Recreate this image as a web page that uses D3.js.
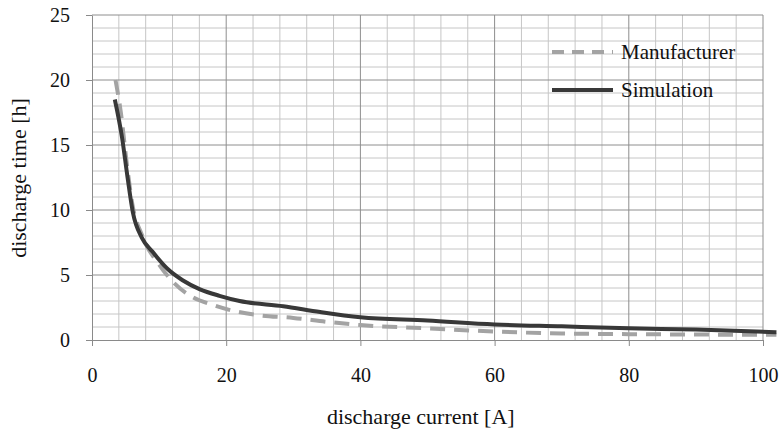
<!DOCTYPE html>
<html>
<head>
<meta charset="utf-8">
<script src="https://cdn.jsdelivr.net/npm/d3@7"></script>
<style>
  html, body { margin: 0; padding: 0; background: #fff; }
  svg { display: block; }
  svg text { font-family: "Liberation Serif", "DejaVu Serif", "Times New Roman", serif; }
</style>
</head>
<body>
<div id="chart"></div>
<script>
/* Werte */
var seriesNames = ["Manufacturer", "Simulation"];
var manufacturerCurrent = [3.5, 4.3, 5.2, 6, 7.5, 10, 12, 15, 18, 21, 25, 30, 35, 40, 50, 60, 70, 80, 90, 102];
var manufacturerTime    = [20, 17.5, 13.5, 10.5, 8, 5.8, 4.5, 3.3, 2.7, 2.25, 1.9, 1.7, 1.4, 1.15, 0.9, 0.65, 0.5, 0.45, 0.42, 0.4];
var simulationCurrent   = [3.4, 4.5, 5.3, 6.1, 7.4, 9, 11.2, 13.5, 16.1, 19, 22, 28.5, 34, 40, 50, 60, 70, 80, 90, 102];
var simulationTime      = [18.5, 15.5, 12.5, 9.8, 7.9, 6.8, 5.5, 4.6, 3.9, 3.4, 3.0, 2.6, 2.15, 1.75, 1.5, 1.2, 1.05, 0.9, 0.8, 0.6];
var xTicks = [0, 20, 40, 60, 80, 100];
var yTicks = [0, 5, 10, 15, 20, 25];

var W = 779, H = 429;
var margin = {top: 15, right: 16, bottom: 89, left: 92};
var width = W - margin.left - margin.right,
    height = H - margin.top - margin.bottom;

var svg = d3.select("#chart").append("svg").attr("width", W).attr("height", H);
var g = svg.append("g").attr("transform", "translate(" + margin.left + "," + margin.top + ")");

var x = d3.scaleLinear().domain([0, 100]).range([0, width]);
var y = d3.scaleLinear().domain([0, 25]).range([height, 0]);

/* Gitter: fein und grob */
g.append("g").selectAll("line").data(d3.range(4, 100, 4).filter(function(v) { return v % 20 != 0; }))
  .enter().append("line")
  .attr("x1", function(d) { return x(d); }).attr("x2", function(d) { return x(d); })
  .attr("y1", 0).attr("y2", height).attr("stroke", "#c6c6c6").attr("stroke-width", 1);
g.append("g").selectAll("line").data(d3.range(1, 25).filter(function(v) { return v % 5 != 0; }))
  .enter().append("line")
  .attr("y1", function(d) { return y(d); }).attr("y2", function(d) { return y(d); })
  .attr("x1", 0).attr("x2", width).attr("stroke", "#c6c6c6").attr("stroke-width", 1);
g.append("g").selectAll("line").data(xTicks.slice(1))
  .enter().append("line")
  .attr("x1", function(d) { return x(d); }).attr("x2", function(d) { return x(d); })
  .attr("y1", 0).attr("y2", height).attr("stroke", "#8e8e8e").attr("stroke-width", 1);
g.append("g").selectAll("line").data(yTicks.slice(1))
  .enter().append("line")
  .attr("y1", function(d) { return y(d); }).attr("y2", function(d) { return y(d); })
  .attr("x1", 0).attr("x2", width).attr("stroke", "#8e8e8e").attr("stroke-width", 1);

/* Achsen */
var xAxis = g.append("g").attr("transform", "translate(0," + height + ")")
  .call(d3.axisBottom(x).tickValues(xTicks).tickSize(6).tickPadding(22).tickSizeOuter(0));
var yAxis = g.append("g")
  .call(d3.axisLeft(y).tickValues(yTicks).tickSize(6).tickPadding(16).tickSizeOuter(0));
[xAxis, yAxis].forEach(function(a) {
  a.attr("font-family", null);
  a.select(".domain").attr("stroke", "#8a8a8a");
  a.selectAll(".tick line").attr("stroke", "#8a8a8a");
  a.selectAll("text").attr("font-size", "20px").attr("fill", "#111");
});

/* Kurven */
var line = d3.line().x(function(d) { return x(d[0]); }).y(function(d) { return y(d[1]); }).curve(d3.curveMonotoneX);
var manuData = d3.zip(manufacturerCurrent, manufacturerTime);
var simData = d3.zip(simulationCurrent, simulationTime);

g.append("path").datum(manuData).attr("d", line).attr("fill", "none")
  .attr("stroke", "#a3a3a3").attr("stroke-width", 4).attr("stroke-dasharray", "15,9");
g.append("path").datum(simData).attr("d", line).attr("fill", "none")
  .attr("stroke", "#383838").attr("stroke-width", 4).attr("stroke-linejoin", "round");

/* Legende */
var leg = svg.append("g");
var legY = [52, 90];
leg.selectAll("line").data(seriesNames).enter().append("line")
  .attr("x1", 552).attr("x2", 613)
  .attr("y1", function(d, i) { return legY[i]; }).attr("y2", function(d, i) { return legY[i]; })
  .attr("stroke", function(d, i) { return i == 0 ? "#a3a3a3" : "#383838"; })
  .attr("stroke-width", 4)
  .attr("stroke-dasharray", function(d, i) { return i == 0 ? "12,8" : null; });
leg.selectAll("text").data(seriesNames).enter().append("text")
  .attr("x", 621).attr("y", function(d, i) { return legY[i]; }).attr("dy", "0.35em")
  .attr("font-size", "21px").attr("fill", "#111").text(function(d) { return d; });

/* Titel */
svg.append("text").attr("x", margin.left + x(49)).attr("y", 424)
  .attr("text-anchor", "middle").attr("font-size", "22px").attr("fill", "#111")
  .text("discharge current [A]");
svg.append("text").attr("transform", "translate(26,178) rotate(-90)")
  .attr("text-anchor", "middle").attr("font-size", "22px").attr("fill", "#111")
  .text("discharge time [h]");
</script>
</body>
</html>
